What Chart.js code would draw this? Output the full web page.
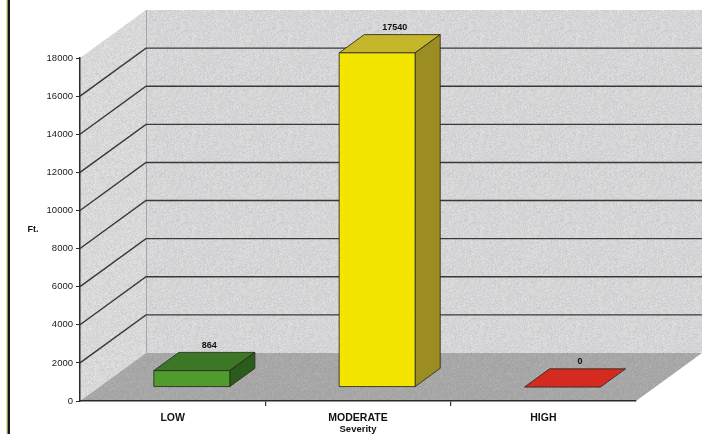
<!DOCTYPE html>
<html>
<head>
<meta charset="utf-8">
<script src="https://cdn.jsdelivr.net/npm/chart.js@4/dist/chart.umd.min.js"></script>
<style>
  html, body { margin: 0; padding: 0; background: #fff; }
  #wrap { width: 726px; height: 434px; }
</style>
</head>
<body>
<div id="wrap"><canvas id="chart" width="726" height="434"></canvas></div>
<script>
// Footage by severity class
const categories = ['LOW', 'MODERATE', 'HIGH'];
const footage = [864, 17540, 0];
const valueTicks = [0, 2000, 4000, 6000, 8000, 10000, 12000, 14000, 16000, 18000];
const valueAxisTitle = 'Ft.';
const categoryAxisTitle = 'Severity';

// Face colours for each box: front, top, right side
const frontColors = ['#4f9b2c', '#f3e500', '#d42a1f'];
const topColors = ['#3b7725', '#c5b52a', '#d42a1f'];
const sideColors = ['#2c5c1b', '#9c8d22', '#a51d15'];

// Oblique projection of the plot box: back plane offset, and where a bar sits in depth
const depth = { x: 66, y: -48 };
const barFront = 0.29;
const barBack = 0.67;

const FONT = '"Liberation Sans", Arial, sans-serif';

// Speckled fill used for the walls and floor
function speckle(r, g, b, amp, seed) {
  const c = document.createElement('canvas');
  c.width = 96; c.height = 96;
  const cx = c.getContext('2d');
  const img = cx.createImageData(96, 96);
  let s = seed >>> 0;
  const rnd = () => {
    s = (s + 0x6D2B79F5) >>> 0;
    let t = s;
    t = Math.imul(t ^ (t >>> 15), t | 1);
    t ^= t + Math.imul(t ^ (t >>> 7), t | 61);
    return ((t ^ (t >>> 14)) >>> 0) / 4294967296;
  };
  for (let i = 0; i < 96 * 96; i++) {
    const n = (rnd() - 0.5) * 2 * amp;
    const tint = (rnd() - 0.5) * 5;
    img.data[i * 4] = r + n + tint;
    img.data[i * 4 + 1] = g + n + tint;
    img.data[i * 4 + 2] = b + n - tint;
    img.data[i * 4 + 3] = 255;
  }
  cx.putImageData(img, 0, 0);
  return c;
}

function poly(ctx, pts, fill, stroke) {
  ctx.beginPath();
  ctx.moveTo(pts[0][0], pts[0][1]);
  for (let i = 1; i < pts.length; i++) ctx.lineTo(pts[i][0], pts[i][1]);
  ctx.closePath();
  if (fill) { ctx.fillStyle = fill; ctx.fill(); }
  if (stroke) { ctx.strokeStyle = stroke; ctx.lineWidth = 1; ctx.stroke(); }
}

const scene3d = {
  id: 'scene3d',
  beforeDraw(chart) {
    const { ctx, chartArea: a, scales } = chart;
    const y = scales.y;
    const dx = depth.x, dy = depth.y;
    ctx.save();
    ctx.fillStyle = '#fff';
    ctx.fillRect(0, 0, chart.width, chart.height);

    const wall = ctx.createPattern(speckle(213, 213, 215, 10, 7), 'repeat');
    const sideWall = ctx.createPattern(speckle(216, 216, 217, 10, 11), 'repeat');
    const floor = ctx.createPattern(speckle(167, 167, 167, 7, 23), 'repeat');

    // back wall
    poly(ctx, [[a.left + dx, a.top + dy], [a.right + dx, a.top + dy],
               [a.right + dx, a.bottom + dy], [a.left + dx, a.bottom + dy]], wall);
    // left wall
    poly(ctx, [[a.left, a.bottom], [a.left + dx, a.bottom + dy],
               [a.left + dx, a.top + dy], [a.left, a.top]], sideWall);
    // floor
    poly(ctx, [[a.left, a.bottom], [a.right, a.bottom],
               [a.right + dx, a.bottom + dy], [a.left + dx, a.bottom + dy]], floor);

    // wall corner
    ctx.strokeStyle = 'rgba(120,120,120,0.5)';
    ctx.lineWidth = 1;
    ctx.beginPath();
    ctx.moveTo(a.left + dx + 0.5, a.top + dy);
    ctx.lineTo(a.left + dx + 0.5, a.bottom + dy);
    ctx.stroke();

    // gridlines across the left wall and back wall
    ctx.strokeStyle = '#383838';
    ctx.lineWidth = 1.4;
    y.ticks.forEach(t => {
      if (t.value <= y.min || t.value >= y.max) return;
      const py = y.getPixelForValue(t.value);
      ctx.beginPath();
      ctx.moveTo(a.left, py);
      ctx.lineTo(a.left + dx, py + dy);
      ctx.lineTo(a.right + dx, py + dy);
      ctx.stroke();
    });
    ctx.restore();
  },
  afterDatasetsDraw(chart) {
    const { ctx } = chart;
    const meta = chart.getDatasetMeta(0);
    const values = chart.data.datasets[0].data;
    const fx = depth.x * barFront, fy = depth.y * barFront;
    const bx = depth.x * (barBack - barFront), by = depth.y * (barBack - barFront);
    ctx.save();
    ctx.lineJoin = 'round';
    meta.data.forEach((bar, i) => {
      const { x, y, base, width } = bar.getProps(['x', 'y', 'base', 'width'], true);
      const L = x - width / 2 + fx, R = x + width / 2 + fx;
      const T = y + fy, B = base + fy;
      const edge = 'rgba(40,40,30,0.85)';
      // top face
      poly(ctx, [[L, T], [R, T], [R + bx, T + by], [L + bx, T + by]], topColors[i], edge);
      // right side and front
      if (B - T > 0.5) {
        poly(ctx, [[R, T], [R + bx, T + by], [R + bx, B + by], [R, B]], sideColors[i], edge);
        poly(ctx, [[L, T], [R, T], [R, B], [L, B]], frontColors[i], edge);
      }
      // value label above the box
      ctx.fillStyle = '#111';
      ctx.font = 'bold 9px ' + FONT;
      ctx.textAlign = 'center';
      ctx.textBaseline = 'middle';
      ctx.fillText(String(values[i]), (L + R) / 2 + bx / 2 + 5, T + by - 7);
    });
    ctx.restore();
  },
  afterDraw(chart) {
    const { ctx } = chart;
    ctx.save();
    // page frame line
    ctx.fillStyle = '#ece57e';
    ctx.fillRect(6, 0, 1, chart.height);
    ctx.fillStyle = '#151515';
    ctx.fillRect(7.5, 0, 2.5, chart.height);
    // value axis title
    ctx.fillStyle = '#111';
    ctx.font = 'bold 9px ' + FONT;
    ctx.textAlign = 'center';
    ctx.textBaseline = 'middle';
    ctx.fillText(valueAxisTitle, 33, 230);
    ctx.restore();
  }
};

new Chart(document.getElementById('chart'), {
  type: 'bar',
  data: {
    labels: categories,
    datasets: [{
      data: footage,
      backgroundColor: 'rgba(0,0,0,0)',
      borderWidth: 0,
      barPercentage: 0.41,
      categoryPercentage: 1.0
    }]
  },
  options: {
    responsive: false,
    animation: false,
    events: [],
    layout: { padding: { top: 58, right: 90, bottom: 0, left: 0 } },
    plugins: {
      legend: { display: false },
      tooltip: { enabled: false }
    },
    scales: {
      x: {
        offset: true,
        grid: {
          offset: true,
          drawOnChartArea: false,
          tickLength: 5,
          lineWidth: 1.2,
          color: c => (c.type === 'tick' && (c.index === 1 || c.index === 2)) ? '#333' : 'rgba(0,0,0,0)'
        },
        border: { display: true, color: '#2a2a2a', width: 1.5 },
        ticks: {
          padding: 6,
          color: '#111',
          font: { family: FONT, size: 10.5, weight: 'bold' }
        },
        title: {
          display: true,
          text: categoryAxisTitle,
          color: '#111',
          padding: 0,
          font: { family: FONT, size: 9.5, weight: 'bold', lineHeight: 1 }
        },
        afterFit(scale) { scale.height = 33; }
      },
      y: {
        min: 0,
        max: 18000,
        afterBuildTicks(scale) { scale.ticks = valueTicks.map(v => ({ value: v })); },
        grid: {
          drawOnChartArea: false,
          tickLength: 4,
          color: '#2a2a2a',
          lineWidth: 1
        },
        border: { display: true, color: '#2a2a2a', width: 1.5 },
        ticks: {
          padding: 3,
          color: '#1a1a1a',
          font: { family: FONT, size: 9.5 },
          callback: v => String(v)
        },
        afterFit(scale) { scale.width = 80; }
      }
    }
  },
  plugins: [scene3d]
});
</script>
</body>
</html>
